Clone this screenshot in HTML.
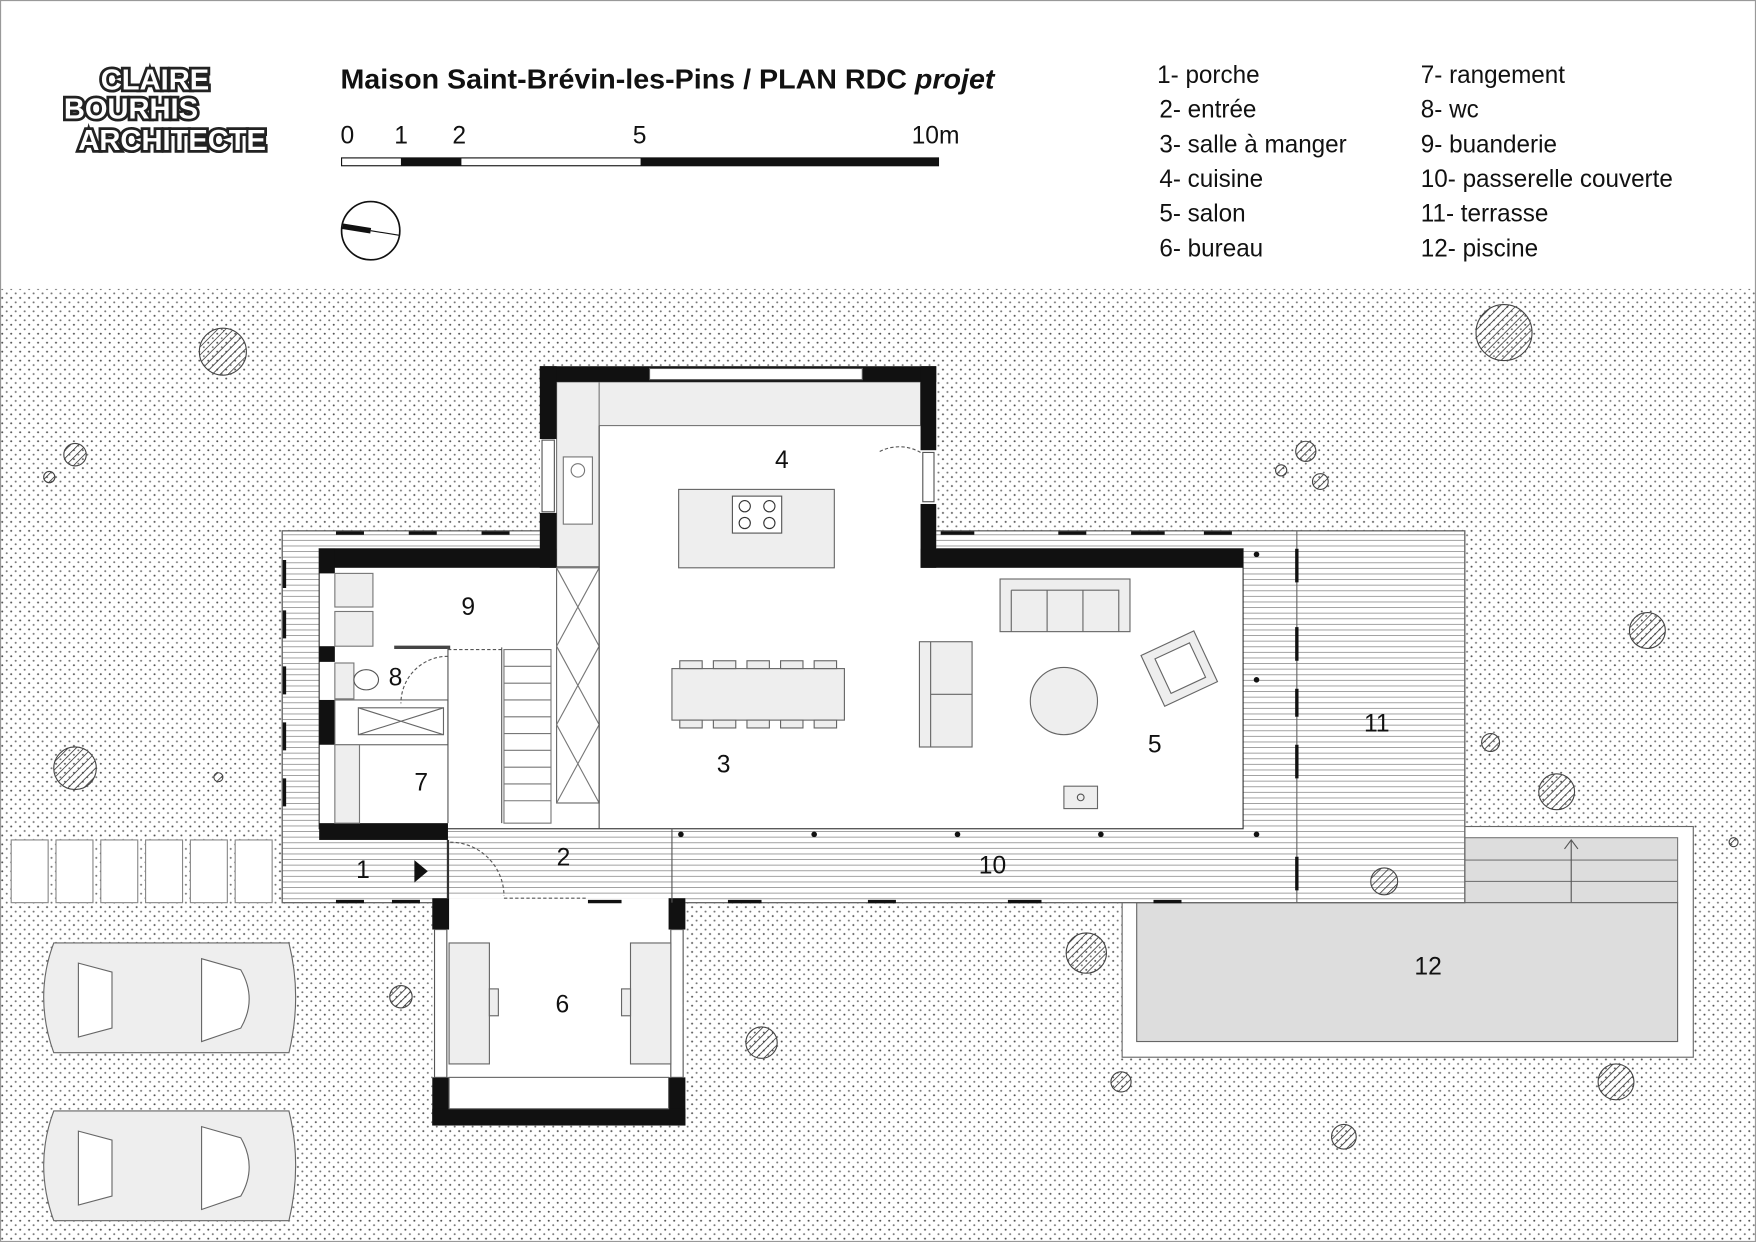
<!DOCTYPE html>
<html><head><meta charset="utf-8"><style>
html,body{margin:0;padding:0;background:#fff}
svg{display:block}
text{font-family:"Liberation Sans",sans-serif;fill:#111}
</style></head><body>
<svg width="1756" height="1242" viewBox="0 0 1568 1109" preserveAspectRatio="none" xmlns="http://www.w3.org/2000/svg">
<defs>
<pattern id="dots" width="8" height="8" patternUnits="userSpaceOnUse">
<circle cx="2" cy="2" r="0.9" fill="#555"/><circle cx="6" cy="6" r="0.9" fill="#777"/>
</pattern>
<pattern id="deck" width="8" height="5" patternUnits="userSpaceOnUse">
<line x1="0" y1="2.5" x2="8" y2="2.5" stroke="#888" stroke-width="0.7"/>
</pattern>
<pattern id="hatch" width="5" height="5" patternUnits="userSpaceOnUse" patternTransform="rotate(45)">
<line x1="0" y1="0" x2="0" y2="5" stroke="#333" stroke-width="1.4"/>
</pattern>
</defs>
<rect x="0.5" y="0.5" width="1567" height="1108" fill="#fff" stroke="#999"/>
<g font-family="Liberation Sans" font-weight="bold" font-size="26" stroke="#222" stroke-width="5" paint-order="stroke">
<text x="90" y="80" style="fill:#fff">CLAIRE</text>
<text x="57" y="106" style="fill:#fff">BOURHIS</text>
<text x="70" y="134" style="fill:#fff">ARCHITECTE</text>
</g>
<text x="304" y="79" font-size="25" font-weight="bold" textLength="584" lengthAdjust="spacingAndGlyphs">Maison Saint-Brévin-les-Pins / PLAN RDC <tspan font-style="italic"> projet</tspan></text>
<g font-size="22"><text x="304" y="128">0</text><text x="352" y="128">1</text><text x="404" y="128">2</text><text x="565" y="128">5</text><text x="814" y="128">10m</text></g>
<rect x="305" y="141" width="533" height="7" fill="#fff" stroke="#111"/>
<rect x="358" y="141" width="54" height="7" fill="#111"/>
<rect x="572" y="141" width="266" height="7" fill="#111"/>
<circle cx="331" cy="206" r="26" fill="#fff" stroke="#111" stroke-width="1.5"/>
<line x1="306" y1="202" x2="331" y2="206" stroke="#111" stroke-width="5"/>
<line x1="331" y1="206" x2="356" y2="210" stroke="#111" stroke-width="1"/>
<g font-size="22" transform="scale(0.985 1)">
<text x="1049" y="74">1- porche</text><text x="1051" y="105">2- entrée</text><text x="1051" y="136">3- salle à manger</text>
<text x="1051" y="167">4- cuisine</text><text x="1051" y="198">5- salon</text><text x="1051" y="229">6- bureau</text>
<text x="1288" y="74">7- rangement</text><text x="1288" y="105">8- wc</text><text x="1288" y="136">9- buanderie</text>
<text x="1288" y="167">10- passerelle couverte</text><text x="1288" y="198">11- terrasse</text><text x="1288" y="229">12- piscine</text>
</g>
<rect x="0" y="258" width="1568" height="851" fill="url(#dots)"/>
<!-- pool (under deck) -->
<rect x="1002" y="738" width="510" height="206" fill="#fff" stroke="#666"/>
<rect x="1308" y="748" width="190" height="58" fill="#ddd" stroke="#777"/>
<path d="M1308 768H1498M1308 787H1498" stroke="#777"/>
<line x1="1403" y1="806" x2="1403" y2="750" stroke="#555"/><path d="M1397 758L1403 750L1409 758" fill="none" stroke="#555"/>
<rect x="1015" y="806" width="483" height="124" fill="#ddd" stroke="#666"/>
<!-- decks -->
<rect x="252" y="474" width="1056" height="332" fill="#fff" stroke="#666"/>
<rect x="252" y="474" width="1056" height="332" fill="url(#deck)" stroke="#666"/>
<line x1="1158" y1="474" x2="1158" y2="806" stroke="#666"/>
<rect x="285" y="490" width="825" height="250" fill="#fff" stroke="#333"/>
<rect x="482" y="327" width="354" height="180" fill="#fff"/>
<rect x="497" y="341" width="325" height="39" fill="#eee" stroke="#777"/>
<rect x="497" y="341" width="38" height="165" fill="#eee" stroke="#777"/>
<rect x="503" y="408" width="26" height="60" fill="#fff" stroke="#777"/>
<circle cx="516" cy="420" r="6" fill="none" stroke="#777"/>
<g fill="#111">
<rect x="482" y="327" width="354" height="14"/>
<rect x="482" y="327" width="15" height="65"/>
<rect x="482" y="458" width="15" height="49"/>
<rect x="822" y="327" width="14" height="75"/>
<rect x="822" y="450" width="14" height="57"/>
<rect x="285" y="490" width="212" height="17"/>
<rect x="822" y="490" width="288" height="17"/>
<rect x="285" y="490" width="14" height="22"/>
<rect x="285" y="577" width="14" height="14"/>
<rect x="285" y="625" width="14" height="40"/>
<rect x="285" y="735" width="115" height="15"/>
</g>
<rect x="580" y="329" width="190" height="10" fill="#fff" stroke="#555"/>
<rect x="484" y="393" width="11" height="64" fill="#fff" stroke="#555"/>
<rect x="824" y="404" width="10" height="44" fill="#fff" stroke="#555"/>
<path d="M822 404 A38 38 0 0 0 784 404" fill="none" stroke="#555" stroke-dasharray="3,2"/>
<rect x="606" y="437" width="139" height="70" fill="#eee" stroke="#666"/>
<rect x="654" y="443" width="44" height="33" fill="#fff" stroke="#555"/>
<g fill="none" stroke="#333"><circle cx="665" cy="452" r="5"/><circle cx="687" cy="452" r="5"/><circle cx="665" cy="467" r="5"/><circle cx="687" cy="467" r="5"/></g>
<rect x="299" y="512" width="34" height="30" fill="#eee" stroke="#777"/>
<rect x="299" y="546" width="34" height="31" fill="#eee" stroke="#777"/>
<rect x="299" y="592" width="17" height="32" fill="#eee" stroke="#777"/>
<ellipse cx="327" cy="607" rx="11" ry="9" fill="#fff" stroke="#555"/>
<rect x="299" y="625" width="101" height="40" fill="#fff" stroke="#666"/>
<rect x="320" y="632" width="76" height="24" fill="#fff" stroke="#666"/>
<path d="M320 632 L396 656 M396 632 L320 656" stroke="#666"/>
<rect x="299" y="665" width="22" height="70" fill="#eee" stroke="#777"/>
<line x1="352" y1="578" x2="402" y2="578" stroke="#444" stroke-width="3"/>
<path d="M400 586 A42 42 0 0 0 358 628" fill="none" stroke="#555" stroke-dasharray="3,2"/>
<line x1="400" y1="580" x2="448" y2="580" stroke="#555" stroke-dasharray="3,2"/>
<line x1="448" y1="578" x2="448" y2="735" stroke="#555"/>
<line x1="400" y1="578" x2="400" y2="735" stroke="#555"/>
<g stroke="#777">
<rect x="450" y="580" width="42" height="155" fill="#fff"/>
<path d="M450 595H492M450 610H492M450 625H492M450 640H492M450 655H492M450 670H492M450 685H492M450 700H492M450 715H492"/>
</g>
<rect x="497" y="507" width="38" height="210" fill="#fff" stroke="#666"/>
<path d="M497 507L535 577L497 647L535 717M535 507L497 577L535 647L497 717" fill="none" stroke="#777"/>
<line x1="535" y1="380" x2="535" y2="740" stroke="#555"/>
<rect x="600" y="597" width="154" height="46" fill="#eee" stroke="#666"/>
<g fill="#eee" stroke="#666">
<rect x="607" y="590" width="20" height="7"/><rect x="637" y="590" width="20" height="7"/><rect x="667" y="590" width="20" height="7"/><rect x="697" y="590" width="20" height="7"/><rect x="727" y="590" width="20" height="7"/>
<rect x="607" y="643" width="20" height="7"/><rect x="637" y="643" width="20" height="7"/><rect x="667" y="643" width="20" height="7"/><rect x="697" y="643" width="20" height="7"/><rect x="727" y="643" width="20" height="7"/>
</g>
<rect x="893" y="517" width="116" height="47" fill="#eee" stroke="#666"/>
<path d="M903 527H999V564M903 527V564M935 527V564M967 527V564" fill="none" stroke="#666"/>
<rect x="821" y="573" width="47" height="94" fill="#eee" stroke="#666"/>
<path d="M831 573V667M831 620H868" fill="none" stroke="#666"/>
<circle cx="950" cy="626" r="30" fill="#eee" stroke="#666"/>
<g transform="rotate(-25 1053 597)"><rect x="1027" y="572" width="52" height="50" fill="#eee" stroke="#666"/><rect x="1037" y="580" width="34" height="34" fill="#fff" stroke="#666"/></g>
<rect x="950" y="702" width="30" height="20" fill="#eee" stroke="#666"/>
<circle cx="965" cy="712" r="3" fill="none" stroke="#555"/>
<rect x="386" y="802" width="226" height="203" fill="#fff"/>
<g fill="#111">
<rect x="386" y="802" width="15" height="28"/><rect x="597" y="802" width="15" height="28"/>
<rect x="386" y="962" width="15" height="43"/><rect x="597" y="962" width="15" height="43"/>
<rect x="386" y="990" width="226" height="15"/>
</g>
<rect x="388" y="830" width="11" height="132" fill="#fff" stroke="#555"/>
<rect x="599" y="830" width="11" height="132" fill="#fff" stroke="#555"/>
<rect x="401" y="842" width="36" height="108" fill="#eee" stroke="#666"/>
<rect x="563" y="842" width="36" height="108" fill="#eee" stroke="#666"/>
<rect x="437" y="883" width="8" height="24" fill="#eee" stroke="#666"/>
<rect x="555" y="883" width="8" height="24" fill="#eee" stroke="#666"/>
<rect x="401" y="962" width="196" height="28" fill="#fff" stroke="#666"/>
<line x1="400" y1="750" x2="400" y2="802" stroke="#333" stroke-width="2"/>
<path d="M402 752 A48 48 0 0 1 450 800" fill="none" stroke="#555" stroke-dasharray="3,2"/>
<line x1="450" y1="802" x2="525" y2="802" stroke="#555" stroke-dasharray="3,2"/>
<line x1="600" y1="740" x2="600" y2="806" stroke="#555"/>
<path d="M370 768L382 778L370 788Z" fill="#111"/>
<g fill="#111">
<circle cx="608" cy="745" r="2.5"/><circle cx="727" cy="745" r="2.5"/><circle cx="855" cy="745" r="2.5"/><circle cx="983" cy="745" r="2.5"/><circle cx="1122" cy="745" r="2.5"/><circle cx="1122" cy="607" r="2.5"/><circle cx="1122" cy="495" r="2.5"/>
</g>
<g stroke="#111" stroke-width="3">
<path d="M300 476H325M365 476H390M430 476H455M840 476H870M945 476H970M1010 476H1040M1075 476H1100"/>
<path d="M300 805H325M350 805H375M525 805H555M650 805H680M775 805H800M900 805H930M1030 805H1055"/>
<path d="M254 500V525M254 545V570M254 595V620M254 645V670M254 695V720"/>
<path d="M1158 490V520M1158 560V590M1158 615V640M1158 665V695M1158 765V795"/>
</g>
<g fill="#fff" stroke="#888">
<rect x="10" y="750" width="33" height="56"/><rect x="50" y="750" width="33" height="56"/><rect x="90" y="750" width="33" height="56"/><rect x="130" y="750" width="33" height="56"/><rect x="170" y="750" width="33" height="56"/><rect x="210" y="750" width="33" height="56"/>
</g>
<g fill="#eee" stroke="#666">
<path d="M48 842H258Q270 890 258 940H48Q30 890 48 842Z"/>
<path d="M48 992H258Q270 1040 258 1090H48Q30 1040 48 992Z"/>
</g>
<g fill="#fff" stroke="#666">
<path d="M70 860L100 868L100 918L70 926Z M180 856L215 866Q230 892 215 918L180 930Z"/>
<path d="M70 1010L100 1018L100 1068L70 1076Z M180 1006L215 1016Q230 1042 215 1068L180 1080Z"/>
</g>
<g fill="url(#hatch)" stroke="#444">
<circle cx="199" cy="314" r="21"/><circle cx="1343" cy="297" r="25"/><circle cx="67" cy="406" r="10"/><circle cx="44" cy="426" r="5"/>
<circle cx="1166" cy="403" r="9"/><circle cx="1144" cy="420" r="5"/><circle cx="1179" cy="430" r="7"/>
<circle cx="1471" cy="563" r="16"/><circle cx="1331" cy="663" r="8"/><circle cx="1390" cy="707" r="16"/>
<circle cx="67" cy="686" r="19"/><circle cx="195" cy="694" r="4"/><circle cx="1548" cy="752" r="4"/>
<circle cx="1236" cy="787" r="12"/><circle cx="970" cy="851" r="18"/><circle cx="358" cy="890" r="10"/>
<circle cx="680" cy="931" r="14"/><circle cx="1443" cy="966" r="16"/><circle cx="1001" cy="966" r="9"/><circle cx="1200" cy="1015" r="11"/>
</g>
<g font-size="22">
<text x="692" y="418">4</text><text x="412" y="549">9</text><text x="347" y="612">8</text><text x="370" y="706">7</text>
<text x="640" y="690">3</text><text x="1025" y="672">5</text><text x="1218" y="653">11</text>
<text x="318" y="784">1</text><text x="497" y="773">2</text><text x="874" y="780">10</text>
<text x="496" y="904">6</text><text x="1263" y="870">12</text>
</g>
</svg>
</body></html>
